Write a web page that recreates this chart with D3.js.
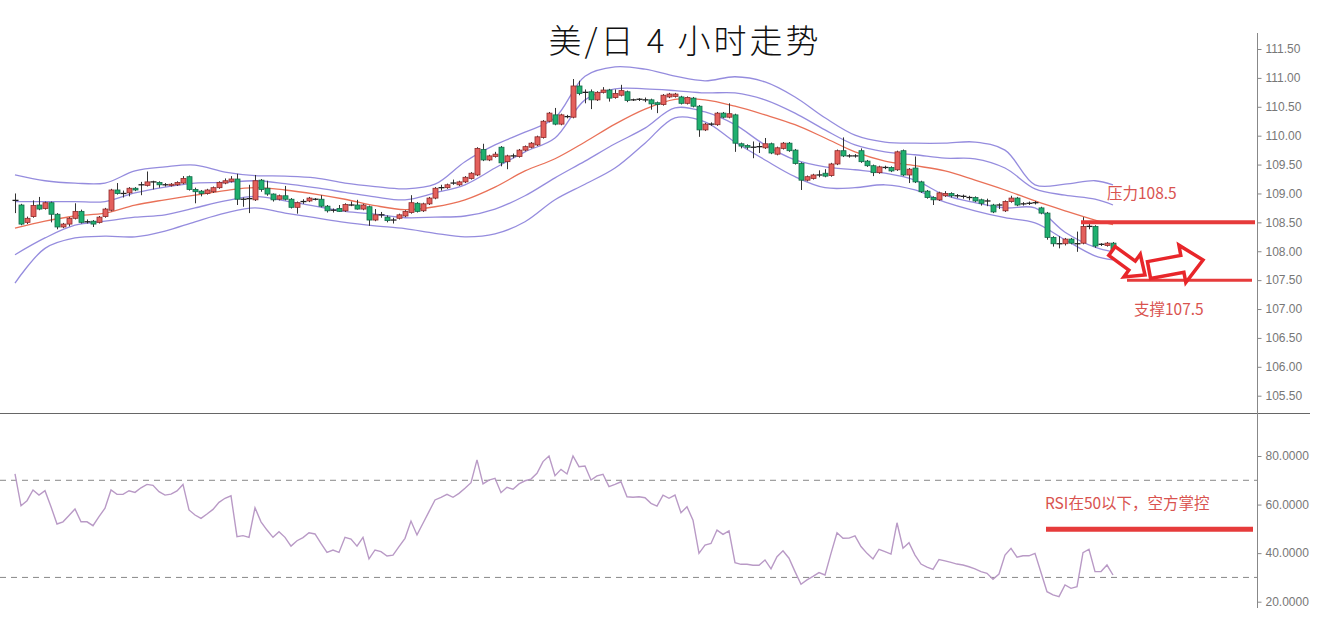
<!DOCTYPE html>
<html><head><meta charset="utf-8">
<script src="https://cdn.jsdelivr.net/npm/d3@7"></script>
<style>body{margin:0;background:#fff}svg{display:block}</style>
</head><body>
<svg id="c" width="1330" height="643"></svg>
<script>
// ---------- DATA ----------
const title = "美/日 4 小时走势";
const open = [
108.87,108.80,108.50,108.60,108.80,108.74,108.84,108.64,108.42,108.47,
108.57,108.69,108.51,108.52,108.50,108.60,108.71,109.06,109.00,109.01,
109.09,109.14,109.14,109.20,109.19,109.15,109.14,109.15,109.18,109.29,
109.07,109.04,109.00,109.03,109.10,109.18,109.21,109.25,108.91,108.90,
108.89,109.23,109.09,108.99,108.90,108.96,108.90,108.76,108.86,108.87,
108.90,108.90,108.78,108.71,108.74,108.70,108.80,108.80,108.73,108.77,
108.54,108.63,108.59,108.54,108.57,108.61,108.67,108.83,108.70,108.82,
108.92,109.10,109.10,109.18,109.15,109.20,109.26,109.32,109.76,109.58,
109.64,109.80,109.55,109.65,109.64,109.75,109.80,109.84,109.97,110.25,
110.36,110.20,110.33,110.32,110.86,110.75,110.76,110.62,110.75,110.79,
110.66,110.70,110.76,110.62,110.63,110.63,110.62,110.57,110.54,110.67,
110.68,110.67,110.56,110.65,110.51,110.10,110.20,110.19,110.39,110.32,
110.36,109.86,109.83,109.80,109.81,109.79,109.86,109.68,109.78,109.87,
109.75,109.52,109.23,109.26,109.32,109.35,109.31,109.51,109.74,109.65,
109.65,109.74,109.56,109.48,109.36,109.44,109.45,109.41,109.74,109.32,
109.44,109.20,109.04,108.93,108.89,108.96,109.00,108.96,108.95,108.93,
108.93,108.89,108.87,108.80,108.80,108.70,108.86,108.92,108.82,108.83,
108.84,108.75,108.66,108.24,108.13,108.13,108.21,108.13,108.14,108.43,
108.43,108.12,108.10,108.14];
const high = [
109.00,108.82,108.60,108.88,108.94,108.86,108.86,108.66,108.49,108.59,
108.83,108.72,108.55,108.54,108.61,108.75,109.08,109.18,109.05,109.11,
109.11,109.20,109.38,109.22,109.21,109.18,109.18,109.21,109.30,109.31,
109.10,109.06,109.08,109.12,109.21,109.26,109.30,109.34,108.93,109.15,
109.32,109.25,109.22,109.00,108.98,109.13,108.92,108.86,108.90,108.94,
108.92,108.97,108.80,108.74,108.80,108.83,108.86,108.89,108.82,108.79,
108.73,108.68,108.62,108.58,108.65,108.71,108.97,108.85,108.84,108.94,
109.11,109.15,109.17,109.24,109.22,109.30,109.37,109.80,109.86,109.67,
109.72,109.82,109.67,109.69,109.77,109.83,109.89,110.00,110.27,110.41,
110.48,110.38,110.36,110.98,110.95,110.80,110.80,110.77,110.84,110.81,
110.80,110.88,110.78,110.64,110.65,110.66,110.64,110.59,110.72,110.74,
110.74,110.69,110.68,110.67,110.53,110.22,110.23,110.41,110.41,110.56,
110.38,109.88,109.85,109.90,109.88,109.96,109.88,109.81,109.89,109.89,
109.77,109.54,109.31,109.34,109.40,109.42,109.53,109.76,109.97,109.68,
109.68,109.78,109.58,109.50,109.48,109.48,109.47,109.74,109.76,109.44,
109.64,109.22,109.06,108.95,109.03,109.04,109.02,108.99,108.98,108.96,
108.95,108.91,108.91,108.82,108.83,108.88,108.96,108.94,108.85,108.86,
108.87,108.77,108.68,108.26,108.26,108.23,108.23,108.34,108.59,108.48,
108.45,108.14,108.16,108.16];
const low = [
108.66,108.45,108.47,108.58,108.71,108.72,108.50,108.38,108.40,108.43,
108.55,108.48,108.48,108.42,108.48,108.58,108.69,108.98,108.93,108.95,
109.04,108.97,109.12,109.07,109.10,109.12,109.12,109.13,109.16,109.05,
108.83,108.95,108.98,109.01,109.08,109.16,109.19,108.80,108.77,108.66,
108.87,109.03,108.96,108.86,108.88,108.88,108.74,108.65,108.82,108.85,
108.88,108.76,108.67,108.67,108.68,108.68,108.78,108.72,108.71,108.44,
108.52,108.58,108.50,108.48,108.55,108.59,108.65,108.67,108.68,108.80,
108.90,109.05,109.08,109.15,109.13,109.18,109.24,109.30,109.56,109.56,
109.62,109.47,109.42,109.61,109.62,109.73,109.78,109.82,109.95,110.23,
110.18,110.18,110.30,110.30,110.70,110.56,110.46,110.60,110.73,110.59,
110.64,110.68,110.58,110.60,110.60,110.58,110.45,110.39,110.52,110.65,
110.66,110.54,110.54,110.49,109.98,110.08,110.17,110.17,110.30,110.30,
109.72,109.78,109.76,109.61,109.70,109.77,109.68,109.66,109.76,109.72,
109.50,109.06,109.21,109.24,109.28,109.28,109.29,109.49,109.63,109.62,
109.62,109.53,109.46,109.30,109.34,109.42,109.37,109.39,109.30,109.18,
109.18,109.01,108.91,108.80,108.87,108.94,108.93,108.92,108.91,108.88,
108.85,108.79,108.78,108.66,108.73,108.68,108.84,108.78,108.79,108.80,
108.81,108.64,108.20,108.08,108.05,108.10,108.12,107.99,108.12,108.38,
108.06,108.09,108.08,107.99];
const close = [
108.88,108.47,108.57,108.79,108.73,108.84,108.64,108.42,108.47,108.57,
108.69,108.50,108.51,108.47,108.59,108.73,109.06,109.00,109.00,109.09,
109.06,109.15,109.20,109.20,109.15,109.15,109.16,109.19,109.26,109.07,
109.03,109.00,109.06,109.10,109.19,109.22,109.25,108.90,108.90,108.91,
109.22,109.07,108.99,108.89,108.96,108.90,108.76,108.84,108.86,108.92,
108.90,108.78,108.70,108.71,108.69,108.81,108.80,108.73,108.80,108.54,
108.63,108.63,108.53,108.54,108.63,108.69,108.84,108.69,108.82,108.92,
109.09,109.10,109.15,109.18,109.20,109.28,109.35,109.78,109.58,109.65,
109.68,109.53,109.65,109.65,109.75,109.81,109.87,109.98,110.25,110.39,
110.20,110.36,110.33,110.86,110.73,110.75,110.62,110.75,110.79,110.65,
110.73,110.78,110.61,110.62,110.63,110.62,110.55,110.54,110.70,110.72,
110.72,110.56,110.66,110.51,110.10,110.20,110.20,110.39,110.32,110.38,
109.87,109.82,109.80,109.80,109.81,109.86,109.70,109.79,109.87,109.74,
109.52,109.23,109.29,109.32,109.32,109.30,109.51,109.74,109.65,109.65,
109.65,109.55,109.48,109.36,109.46,109.45,109.39,109.72,109.32,109.42,
109.20,109.03,108.93,108.89,109.01,109.00,108.96,108.96,108.95,108.93,
108.87,108.83,108.87,108.68,108.80,108.86,108.92,108.80,108.82,108.83,
108.84,108.66,108.24,108.13,108.13,108.21,108.14,108.13,108.43,108.43,
108.09,108.12,108.14,108.01];
// Bollinger lines, read at every 5th candle (plus the last one)
const bandIdx = [0,5,10,15,20,25,30,35,40,45,50,55,60,65,70,75,80,85,90,95,100,105,110,115,120,125,130,135,140,145,150,155,160,165,170,175,180,183];
const upper2 = [109.32,109.22,109.18,109.18,109.39,109.46,109.49,109.37,109.31,109.30,109.27,109.18,109.12,109.08,109.16,109.55,109.84,110.06,110.31,111.03,111.19,111.15,111.03,110.95,111.02,110.93,110.67,110.31,110.01,109.89,109.87,109.87,109.89,109.75,109.15,109.16,109.22,109.15];
const upper1 = [108.86,108.86,108.86,108.86,109.01,109.11,109.18,109.19,109.22,109.17,109.10,109.02,108.94,108.89,109.01,109.15,109.44,109.72,109.96,110.62,110.81,110.81,110.78,110.74,110.74,110.62,110.39,110.10,109.84,109.72,109.67,109.61,109.60,109.44,109.08,108.97,108.90,108.80];
const middle = [108.40,108.52,108.61,108.66,108.80,108.89,108.97,109.05,109.10,109.06,108.99,108.90,108.79,108.72,108.77,108.89,109.11,109.39,109.60,109.89,110.20,110.46,110.63,110.62,110.51,110.36,110.19,109.96,109.72,109.56,109.48,109.39,109.23,109.06,108.87,108.70,108.54,108.46];
const lower1 = [107.94,108.23,108.45,108.52,108.59,108.63,108.75,108.87,108.95,108.87,108.78,108.69,108.64,108.58,108.59,108.61,108.73,108.96,109.27,109.56,109.86,110.13,110.48,110.41,110.19,109.84,109.58,109.46,109.41,109.35,109.23,108.97,108.84,108.75,108.75,108.33,108.07,107.99];
const lower2 = [107.45,108.05,108.23,108.26,108.25,108.35,108.51,108.66,108.75,108.66,108.58,108.50,108.44,108.39,108.31,108.25,108.30,108.51,108.89,109.16,109.44,109.87,110.31,110.24,109.89,109.58,109.29,109.10,109.10,109.15,109.06,108.85,108.70,108.58,108.49,108.20,107.92,107.85];
const rsi = [
72.6,59.5,61.6,66.0,63.9,65.7,59.1,52.0,52.9,55.5,
58.2,52.9,52.9,51.3,55.0,58.5,66.0,64.2,64.2,65.7,
65.0,66.9,68.3,67.9,65.3,63.9,64.3,65.6,68.3,57.8,
55.7,54.3,56.1,58.0,60.9,62.6,63.6,46.8,47.2,46.5,
58.7,52.9,49.5,46.5,48.8,46.5,42.9,45.1,46.4,48.4,
47.9,44.0,40.3,41.3,40.3,46.5,45.8,42.9,46.5,37.6,
41.3,40.6,38.8,39.2,42.7,46.1,53.2,47.5,52.3,57.1,
61.9,63.0,64.2,63.0,64.6,66.7,69.0,78.4,68.5,70.1,
70.8,64.9,67.1,66.3,68.5,69.8,70.5,72.9,77.7,80.0,
71.9,74.5,72.6,80.0,75.6,75.9,70.1,71.8,72.5,67.4,
68.3,69.4,63.2,63.0,63.2,62.8,60.5,59.4,63.9,62.6,
63.9,56.6,59.1,53.6,39.9,43.3,44.0,49.5,47.7,49.2,
36.1,35.4,35.4,35.0,35.0,37.2,33.5,38.5,41.0,37.9,
32.4,27.2,29.0,30.4,32.0,31.0,39.9,48.4,46.1,46.2,
47.1,42.7,39.9,37.6,41.6,40.6,39.6,52.5,42.0,44.3,
39.2,35.5,34.2,33.3,37.4,36.8,36.2,35.5,35.1,34.4,
33.5,32.4,31.7,29.2,31.4,39.2,42.0,38.3,38.9,38.9,
39.9,32.0,24.1,22.8,22.1,26.9,25.5,26.2,40.2,41.6,
32.4,32.4,35.1,31.0];
const priceTicks = [105.5,106,106.5,107,107.5,108,108.5,109,109.5,110,110.5,111,111.5];
const rsiTicks = [20,40,60,80];
const rsiLevels = [70,30];
const resistance = 108.5, support = 107.5, rsiMid = 50;
const resistLabel = "压力108.5", supportLabel = "支撑107.5", rsiLabel = "RSI在50以下，空方掌控";

// ---------- CHART ----------
const svg = d3.select("#c");
const n = close.length;
const x = d3.scaleLinear().domain([0, n - 1]).range([15, 1113]);
const yP = d3.scaleLinear().domain([105.5, 111.5]).range([395.7, 49]);
const yR = d3.scaleLinear().domain([20, 80]).range([601.7, 456]);
const axisX = 1257;
const red = "#e63b3b", txtRed = "#d9534f";

// title
svg.append("text").attr("x", 685).attr("y", 53).attr("text-anchor", "middle")
  .style("font-family", "'Noto Sans CJK SC', sans-serif").style("font-size", "33px")
  .style("letter-spacing", "3px").style("white-space", "pre")
  .style("font-weight", 300).attr("fill", "#111").text(title);

// separator & axis line
svg.append("line").attr("x1", 0).attr("x2", 1310).attr("y1", 413.5).attr("y2", 413.5)
  .attr("stroke", "#666").attr("stroke-width", 1);
svg.append("line").attr("x1", axisX + 0.5).attr("x2", axisX + 0.5).attr("y1", 33).attr("y2", 608)
  .attr("stroke", "#888").attr("stroke-width", 1);

// axes
const gP = svg.append("g").attr("transform", `translate(${axisX + 0.5},0)`)
  .call(d3.axisRight(yP).tickValues(priceTicks).tickFormat(d3.format(".2f")).tickSize(4).tickPadding(4));
const gR = svg.append("g").attr("transform", `translate(${axisX + 0.5},0)`)
  .call(d3.axisRight(yR).tickValues(rsiTicks).tickFormat(d3.format(".4f")).tickSize(4).tickPadding(4));
[gP, gR].forEach(g => {
  g.select(".domain").remove();
  g.selectAll(".tick line").attr("stroke", "#888");
  g.selectAll(".tick text").attr("fill", "#777")
    .style("font-family", "'Liberation Sans', Arial, sans-serif").style("font-size", "12px");
});

// bands
const bandLine = d3.line().x((d, i) => x(bandIdx[i])).y(d => yP(d)).curve(d3.curveCatmullRom.alpha(0.5));
[[upper2, "#8f86dc"], [upper1, "#8f86dc"], [lower1, "#8f86dc"], [lower2, "#8f86dc"], [middle, "#e8694f"]]
  .forEach(([arr, col]) => {
    svg.append("path").attr("d", bandLine(arr)).attr("fill", "none")
      .attr("stroke", col).attr("stroke-width", 1.3).attr("opacity", 0.95);
  });

// candles
const idx = d3.range(n);
const cg = svg.append("g");
cg.selectAll("line.wick").data(idx).join("line").attr("class", "wick")
  .attr("x1", i => Math.round(x(i)) + 0.5).attr("x2", i => Math.round(x(i)) + 0.5)
  .attr("y1", i => yP(high[i])).attr("y2", i => yP(low[i]))
  .attr("stroke", "#333").attr("stroke-width", 1);
idx.forEach(i => {
  const cx = Math.round(x(i)) + 0.5;
  const o = open[i], c = close[i];
  if (Math.abs(c - o) < 0.015) {
    cg.append("line").attr("x1", cx - 3).attr("x2", cx + 3)
      .attr("y1", yP(c)).attr("y2", yP(c)).attr("stroke", "#222").attr("stroke-width", 1.3);
  } else {
    const up = c > o;
    const top = yP(Math.max(o, c)), bot = yP(Math.min(o, c));
    cg.append("rect").attr("x", cx - 2.5).attr("width", 5)
      .attr("y", top).attr("height", Math.max(1, bot - top))
      .attr("fill", up ? "#e4605c" : "#1fb06f")
      .attr("stroke", up ? "#8e2b2b" : "#14694a").attr("stroke-width", 0.8);
  }
});

// RSI
svg.selectAll("line.lvl").data(rsiLevels).join("line").attr("class", "lvl")
  .attr("x1", 0).attr("x2", axisX).attr("y1", d => yR(d)).attr("y2", d => yR(d))
  .attr("stroke", "#888").attr("stroke-width", 1).attr("stroke-dasharray", "6,5");
svg.append("path").datum(rsi)
  .attr("d", d3.line().x((d, i) => x(i)).y(d => yR(d)))
  .attr("fill", "none").attr("stroke", "#b99ac6").attr("stroke-width", 1.4);

// annotations
svg.append("line").attr("x1", 1081).attr("x2", 1255).attr("y1", yP(resistance)).attr("y2", yP(resistance))
  .attr("stroke", red).attr("stroke-width", 4);
svg.append("line").attr("x1", 1127).attr("x2", 1252).attr("y1", yP(support)).attr("y2", yP(support))
  .attr("stroke", red).attr("stroke-width", 3);
svg.append("line").attr("x1", 1046).attr("x2", 1253).attr("y1", yR(rsiMid) + 0.5).attr("y2", yR(rsiMid) + 0.5)
  .attr("stroke", red).attr("stroke-width", 5);
const ann = (tx, ty, s) => svg.append("text").attr("x", tx).attr("y", ty).attr("fill", txtRed)
  .style("font-family", "'Noto Sans CJK SC', sans-serif").style("font-size", "15.5px").text(s);
ann(1107, 199, resistLabel);
ann(1134, 315, supportLabel);
ann(1045, 509, rsiLabel);

function arrowPts(x1, y1, x2, y2, sw, hw, hl) {
  const dx = x2 - x1, dy = y2 - y1, L = Math.hypot(dx, dy), ux = dx / L, uy = dy / L, nx = -uy, ny = ux;
  const b = L - hl;
  return [[0, -sw], [b, -sw], [b, -hw], [L, 0], [b, hw], [b, sw], [0, sw]]
    .map(([a, c]) => [x1 + ux * a + nx * c, y1 + uy * a + ny * c].join(",")).join(" ");
}
svg.append("polygon").attr("points", arrowPts(1112, 251, 1145, 275, 5.5, 14, 16))
  .attr("fill", "#fff").attr("stroke", "#e8262a").attr("stroke-width", 3.5).attr("stroke-linejoin", "miter");
svg.append("polygon").attr("points", arrowPts(1149, 270, 1203, 260, 8.5, 19, 21))
  .attr("fill", "#fff").attr("stroke", "#e8262a").attr("stroke-width", 3.5).attr("stroke-linejoin", "miter");
</script>
</body></html>
